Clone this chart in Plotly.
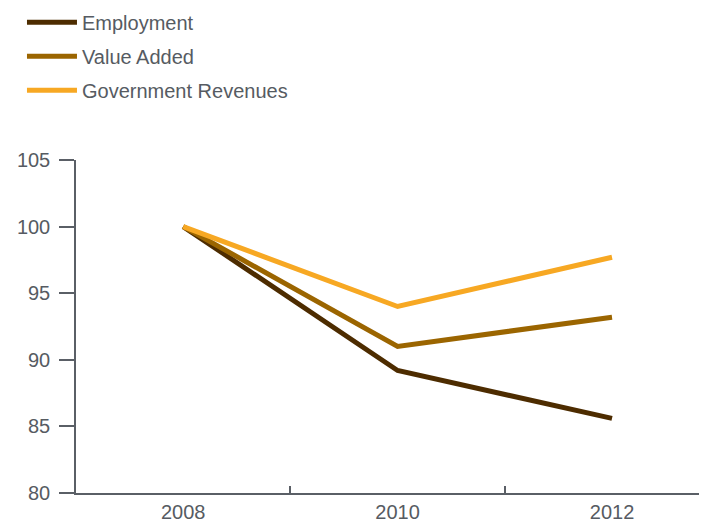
import plotly.graph_objects as go

years = ["2008", "2010", "2012"]
employment = [100, 89.2, 85.6]
value_added = [100, 91.0, 93.2]
gov_revenues = [100, 94.0, 97.7]
y_ticks = [80, 85, 90, 95, 100, 105]

series = [
    ("Employment", employment, "#4d2c00"),
    ("Value Added", value_added, "#9b6500"),
    ("Government Revenues", gov_revenues, "#f7a823"),
]

text_color = "#565b62"
axis_color = "#5a5f66"

fig = go.Figure()
for i, (name, vals, color) in enumerate(series):
    fig.add_trace(go.Scatter(
        x=years, y=vals, name=name, mode="lines",
        line=dict(color=color, width=5),
        legendgroup=f"g{i}",
    ))

# page body has an 8px margin, so the figure is sized to fill the window from there
fig.update_layout(
    width=699, height=513,
    margin=dict(l=68, r=0, t=152, b=28, autoexpand=False),
    paper_bgcolor="white", plot_bgcolor="white",
    font=dict(family="Liberation Sans, Arial, sans-serif", color=text_color, size=20),
    showlegend=True,
    legend=dict(
        xref="container", yref="paper",
        x=0.02, y=1.472, xanchor="left", yanchor="top",
        font=dict(size=20, color=text_color),
        tracegroupgap=5,
        itemwidth=50,
        bgcolor="rgba(0,0,0,0)",
    ),
    xaxis=dict(
        type="category",
        range=[-0.5, 2.443],
        showline=True, linecolor=axis_color, linewidth=1.5,
        showgrid=False, zeroline=False,
        ticks="inside", tickson="boundaries", ticklen=7,
        tickcolor=axis_color, tickwidth=1.5,
        tickfont=dict(size=20, color=text_color),
    ),
    yaxis=dict(
        range=[80, 105],
        tickvals=y_ticks,
        showline=True, linecolor=axis_color, linewidth=1.5,
        showgrid=False, zeroline=False,
        ticks="outside", ticklen=15, tickcolor=axis_color, tickwidth=1.5,
        tickfont=dict(size=20, color=text_color),
        ticklabelstandoff=5,
    ),
)

fig.write_html("out.html")
